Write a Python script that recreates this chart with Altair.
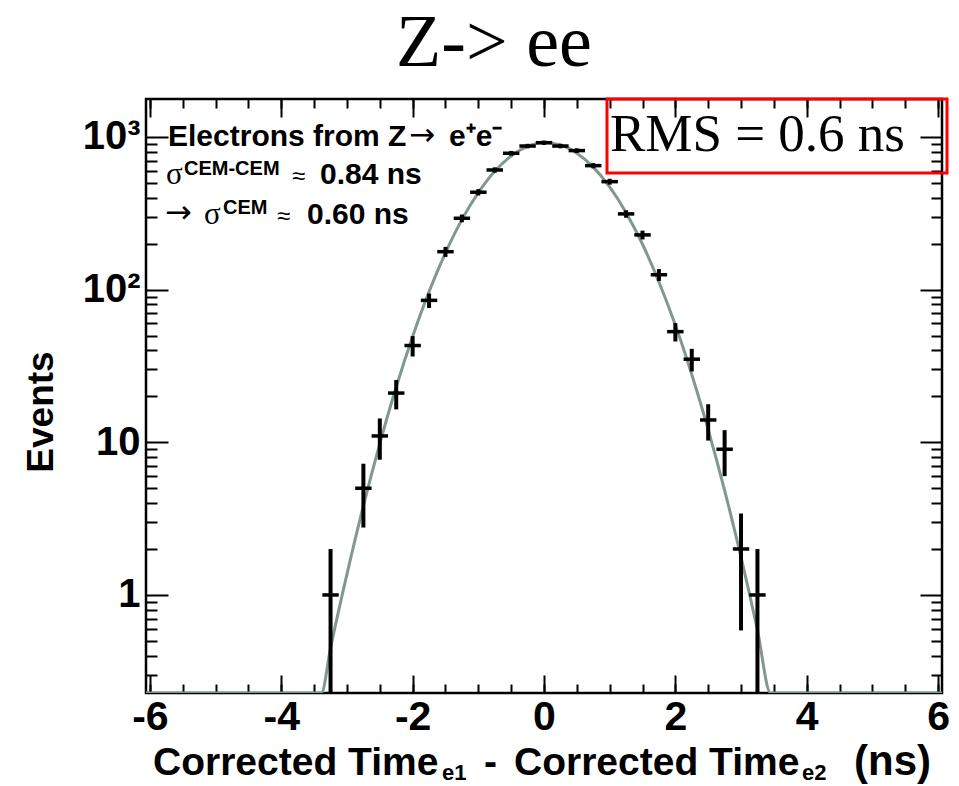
import math
import altair as alt
import pandas as pd

# ---------------- data ----------------
bin_centers = [-3.25, -2.75, -2.5, -2.25, -2.0, -1.75, -1.5, -1.25, -1.0, -0.75,
               -0.5, -0.25, 0.0, 0.25, 0.5, 0.75, 1.0, 1.25, 1.5, 1.75,
               2.0, 2.25, 2.5, 2.75, 3.0, 3.25]
counts = [1, 5, 11, 21, 43, 85, 177, 293, 434, 607,
          781, 871, 916, 871, 813, 648, 509, 313, 228, 125,
          53, 35, 14, 9, 2, 1]
BIN_WIDTH = 0.25

# fitted curve (flat along the floor outside the tails)
fit_x = [-6.06, -3.39, -3.25, -3.0, -2.75, -2.5, -2.25, -2.0, -1.75, -1.5, -1.25,
         -1.0, -0.75, -0.5, -0.25, 0.0, 0.25, 0.5, 0.75, 1.0, 1.25, 1.5, 1.75,
         2.0, 2.25, 2.5, 2.75, 3.0, 3.25, 3.45, 6.06]
fit_y = [0.228, 0.228, 0.45, 1.37, 3.83, 9.8, 23.0, 49.3, 96.9, 174, 287,
         431, 595, 750, 866, 914, 884, 782, 634, 470, 319, 198, 112,
         58.5, 27.8, 12.1, 4.84, 1.77, 0.59, 0.228, 0.228]

x_major_ticks = [-6, -4, -2, 0, 2, 4, 6]
x_minor_ticks = [-6.0, -5.5, -5.0, -4.5, -4.0, -3.5, -3.0, -2.5, -2.0, -1.5, -1.0, -0.5,
                 0.0, 0.5, 1.0, 1.5, 2.0, 2.5, 3.0, 3.5, 4.0, 4.5, 5.0, 5.5, 6.0]
y_major_ticks = [1, 10, 100, 1000]
y_minor_ticks = [0.3, 0.4, 0.5, 0.6, 0.7, 0.8, 0.9,
                 2, 3, 4, 5, 6, 7, 8, 9,
                 20, 30, 40, 50, 60, 70, 80, 90,
                 200, 300, 400, 500, 600, 700, 800, 900]

X_DOMAIN = [-6.06, 6.06]
Y_DOMAIN = [0.228, 1770]

# ---------------- layout ----------------
W, H = 796, 594
PAD = {"left": 146, "top": 99, "right": 17, "bottom": 93}
SANS = "Liberation Sans"
SERIF = "Liberation Serif"
ARROW = "DejaVu Sans"
FIT_COLOR = "#80988f"

pts = pd.DataFrame({"x": bin_centers, "n": counts})
pts["xlo"] = pts["x"] - BIN_WIDTH / 2
pts["xhi"] = pts["x"] + BIN_WIDTH / 2
pts["lo"] = [max(c - math.sqrt(c), Y_DOMAIN[0]) for c in counts]
pts["hi"] = [c + math.sqrt(c) for c in counts]
fit = pd.DataFrame({"fx": fit_x, "fy": fit_y})

xs = alt.Scale(domain=X_DOMAIN, nice=False, zero=False)
ys = alt.Scale(type="log", domain=Y_DOMAIN, nice=False)


def tick_axis(orient, values, size, offset):
    return alt.Axis(orient=orient, values=values, tickSize=size, tickWidth=2,
                    tickColor="black", labels=False, domain=False, grid=False,
                    title=None, offset=offset, ticks=True)


ax_x_labels = alt.Axis(orient="bottom", values=x_major_ticks, ticks=False, domain=False,
                       grid=False, title=None, labelFont=SANS, labelFontWeight="bold",
                       labelFontSize=41, labelColor="black", labelPadding=4,
                       labelFlush=False, labelOverlap=False,
                       labelExpr="datum.value < 0 ? '-' + (-datum.value) : '' + datum.value")
ax_y_labels = alt.Axis(orient="left", values=y_major_ticks, ticks=False, domain=False,
                       grid=False, title=None, labelFont=SANS, labelFontWeight="bold",
                       labelFontSize=40, labelColor="black", labelPadding=6,
                       labelOverlap=False,
                       labelExpr="datum.value >= 1000 ? '10³' : datum.value >= 100 ? '10²' : datum.value >= 10 ? '10' : '1'")

# histogram points: horizontal bin bars
hbars = alt.Chart(pts).mark_rule(color="black", strokeWidth=3.5, clip=True).encode(
    x=alt.X("xlo:Q", scale=xs, axis=ax_x_labels),
    x2="xhi:Q",
    y=alt.Y("n:Q", scale=ys, axis=ax_y_labels),
)
# vertical error bars
vbars = alt.Chart(pts).mark_rule(color="black", strokeWidth=4, clip=True).encode(
    x=alt.X("x:Q", scale=xs, axis=tick_axis("top", x_major_ticks, 18, -H)),
    y=alt.Y("lo:Q", scale=ys, axis=tick_axis("right", y_major_ticks, 22, -W)),
    y2="hi:Q",
)
# gaussian fit curve
curve = alt.Chart(fit).mark_line(color=FIT_COLOR, strokeWidth=3, interpolate="monotone",
                                 clip=True).encode(
    x=alt.X("fx:Q", scale=xs, axis=tick_axis("top", x_minor_ticks, 9, -H)),
    y=alt.Y("fy:Q", scale=ys, axis=tick_axis("right", y_minor_ticks, 11, -W)),
)
# carriers for the inward ticks on the top and right frame edges
top_right_major = alt.Chart(fit).mark_point(opacity=0).encode(
    x=alt.X("fx:Q", scale=xs, axis=tick_axis("bottom", x_major_ticks, 18, -H)),
    y=alt.Y("fy:Q", scale=ys, axis=tick_axis("left", y_major_ticks, 22, -W)),
)
top_right_minor = alt.Chart(fit).mark_point(opacity=0).encode(
    x=alt.X("fx:Q", scale=xs, axis=tick_axis("bottom", x_minor_ticks, 9, -H)),
    y=alt.Y("fy:Q", scale=ys, axis=tick_axis("left", y_minor_ticks, 11, -W)),
)

ann = pd.DataFrame({"k": [0]})


def txt(text, x, y, size, font=SANS, weight="bold", align="left", angle=0,
        baseline="alphabetic", color="black"):
    return alt.Chart(ann).mark_text(text=text, font=font, fontSize=size, fontWeight=weight,
                                    align=align, baseline=baseline, angle=angle,
                                    color=color).encode(x=alt.value(x), y=alt.value(y))


texts = [
    # chart title
    txt("Z-> ee", 348, -33, 74, font=SERIF, weight="normal", align="center"),
    # annotation block, line 1
    txt("Electrons from Z", 22, 47, 30),
    txt("\u2192", 263, 46, 31, font=ARROW, weight="normal"),
    txt("e\u207ae\u207b", 303, 47, 30),
    # line 2
    txt("\u03c3", 20, 85, 31, font=SERIF, weight="normal"),
    txt("CEM-CEM", 38, 76, 20),
    txt("\u2248", 146, 85, 24, weight="normal"),
    txt("0.84 ns", 174, 85, 30),
    # line 3
    txt("\u2192", 19, 124, 32, font=ARROW, weight="normal"),
    txt("\u03c3", 58, 125, 31, font=SERIF, weight="normal"),
    txt("CEM", 77, 115, 20),
    txt("\u2248", 131, 125, 24, weight="normal"),
    txt("0.60 ns", 161, 125, 30),
    # RMS box text
    txt("RMS = 0.6 ns", 464, 52, 53, font=SERIF, weight="normal"),
    # y axis title
    txt("Events", -104, 313, 37, align="center", angle=270, baseline="middle"),
    # x axis title with subscripts
    txt("Corrected Time", 7, 676, 39),
    txt("e1", 296, 681, 22),
    txt("-", 338, 676, 39),
    txt("Corrected Time", 368, 676, 39),
    txt("e2", 656, 681, 22),
    txt("(ns)", 708, 676, 42),
]

rms_box = alt.Chart(ann).mark_rect(fill="white", fillOpacity=0, stroke="#ff0000",
                                   strokeWidth=3).encode(
    x=alt.value(461), x2=alt.value(W + 5), y=alt.value(0), y2=alt.value(74))

chart = alt.layer(curve, vbars, hbars, top_right_major, top_right_minor, rms_box, *texts).resolve_axis(
    x="independent", y="independent"
).properties(
    width=W, height=H, padding=PAD, autosize=alt.AutoSizeParams(type="none"),
    background="white",
).configure_view(stroke="black", strokeWidth=2.5)

chart.save("out.html", embed_options={"renderer": "svg", "actions": False})
